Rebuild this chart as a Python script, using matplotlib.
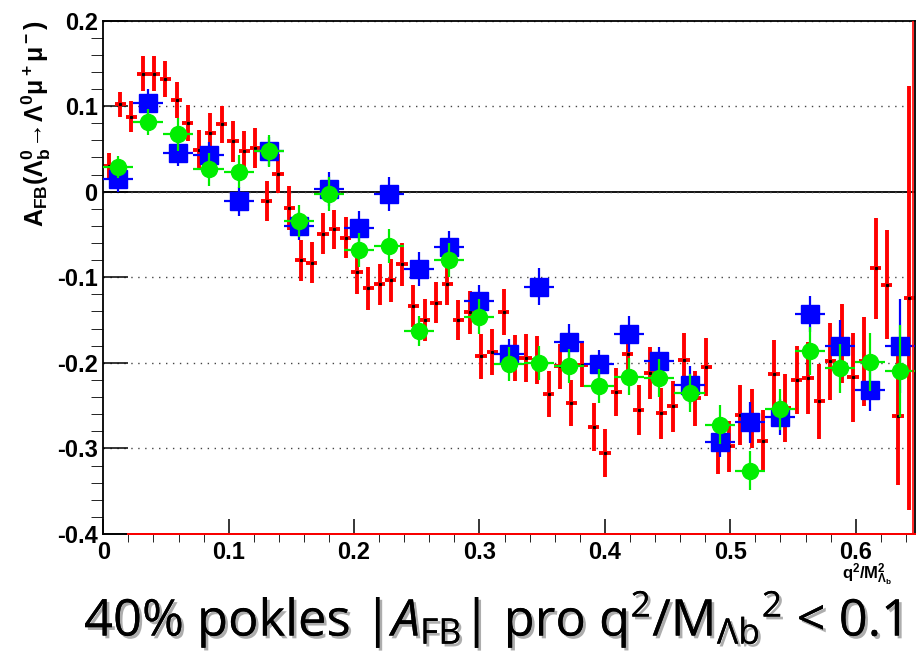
import matplotlib
matplotlib.use("Agg")
import matplotlib.pyplot as plt
import matplotlib.patheffects as pe
import numpy as np

plt.rcParams["mathtext.fontset"] = "custom"
plt.rcParams["mathtext.rm"] = "Open Sans"
plt.rcParams["mathtext.it"] = "Open Sans:italic"
plt.rcParams["mathtext.bf"] = "Liberation Sans:bold"
plt.rcParams["axes.unicode_minus"] = False

X_MAX = 0.6473

# fine binning (red)
red_values = [
    0.030, 0.102, 0.0875, 0.138, 0.138, 0.132, 0.107, 0.080, 0.049, 0.069,
    0.0785, 0.059, 0.048, 0.051, -0.011, 0.021, -0.019, -0.080, -0.083, -0.049,
    -0.044, -0.054, -0.094, -0.113, -0.108, -0.1035, -0.085, -0.1335, -0.150, -0.130,
    -0.108, -0.150, -0.141, -0.1925, -0.187, -0.141, -0.194, -0.194, -0.197, -0.236,
    -0.204, -0.247, -0.202, -0.2755, -0.305, -0.234, -0.190, -0.255, -0.212, -0.259,
    -0.251, -0.197, -0.2415, -0.205, -0.300, -0.2975, -0.261, -0.265, -0.291, -0.213,
    -0.253, -0.220, -0.218, -0.245, -0.198, -0.177, -0.217, -0.198, -0.0895, -0.1085,
    -0.2625, -0.124,
]
red_errors = [
    0.015, 0.015, 0.018, 0.020, 0.020, 0.021, 0.021, 0.021, 0.023, 0.023,
    0.022, 0.024, 0.023, 0.023, 0.023, 0.023, 0.026, 0.024, 0.024, 0.024,
    0.023, 0.024, 0.025, 0.025, 0.024, 0.025, 0.025, 0.025, 0.025, 0.024,
    0.025, 0.023, 0.025, 0.026, 0.027, 0.027, 0.027, 0.028, 0.028, 0.027,
    0.026, 0.027, 0.026, 0.028, 0.028, 0.028, 0.028, 0.029, 0.030, 0.030,
    0.030, 0.032, 0.032, 0.034, 0.030, 0.030, 0.035, 0.035, 0.036, 0.040,
    0.040, 0.040, 0.042, 0.044, 0.045, 0.046, 0.052, 0.052, 0.059, 0.064,
    0.080, 0.248,
]

# coarse binning (blue squares, green circles)
blue_values = [
    0.0144, 0.104, 0.0455, 0.0424, -0.011, 0.0474, -0.040, 0.0027, -0.0428,
    -0.003, -0.0907, -0.0645, -0.1277, -0.190, -0.1109, -0.1755, -0.2015,
    -0.1665, -0.1977, -0.226, -0.292, -0.2695, -0.2637, -0.1424, -0.180,
    -0.2315, -0.180,
]
blue_errors = [
    0.015, 0.016, 0.015, 0.016, 0.017, 0.017, 0.016, 0.020, 0.020,
    0.020, 0.020, 0.018, 0.019, 0.018, 0.022, 0.021, 0.016,
    0.021, 0.016, 0.022, 0.018, 0.024, 0.021, 0.021, 0.030,
    0.025, 0.055,
]
green_values = [
    0.0292, 0.0812, 0.0669, 0.026, 0.0233, 0.0474, -0.0343, -0.003, -0.068,
    -0.0635, -0.1627, -0.0795, -0.1459, -0.2015, -0.2003, -0.2035, -0.2268,
    -0.216, -0.218, -0.2353, -0.2723, -0.326, -0.254, -0.186, -0.2065,
    -0.1988, -0.2093,
]
green_errors = [
    0.013, 0.015, 0.019, 0.019, 0.019, 0.019, 0.019, 0.020, 0.020,
    0.020, 0.018, 0.020, 0.020, 0.020, 0.020, 0.020, 0.020,
    0.022, 0.022, 0.022, 0.023, 0.023, 0.024, 0.028, 0.029,
    0.034, 0.054,
]

y_ticks = [-0.4, -0.3, -0.2, -0.1, 0.0, 0.1, 0.2]
y_tick_labels = ["-0.4", "-0.3", "-0.2", "-0.1", "0", "0.1", "0.2"]
x_ticks = [0.0, 0.1, 0.2, 0.3, 0.4, 0.5, 0.6]
x_tick_labels = ["0", "0.1", "0.2", "0.3", "0.4", "0.5", "0.6"]


def bin_centers(n):
    edges = np.linspace(0, X_MAX, n + 1)
    return 0.5 * (edges[:-1] + edges[1:]), 0.5 * (edges[1] - edges[0])


fig = plt.figure(figsize=(9.21, 6.55), dpi=100)
ax = fig.add_axes([103.3 / 921, 1 - 534 / 655, (915 - 103.3) / 921, (534 - 20.5) / 655])

ax.yaxis.grid(True, linestyle=(0, (1, 4)), color="#444444", linewidth=1.0)
ax.axhline(0, color="black", linewidth=1.3, zorder=1.5)

xr, hwr = bin_centers(len(red_values))
ax.errorbar(xr, red_values, yerr=red_errors, xerr=hwr, fmt="none",
            ecolor="#ff0000", elinewidth=2.8, capsize=0, zorder=2)
ax.plot(xr, red_values, "s", color="black", markersize=1.3, zorder=2.1)

xb, hwb = bin_centers(len(blue_values))
ax.errorbar(xb, blue_values, yerr=blue_errors, xerr=hwb, fmt="s",
            color="#0000ff", ecolor="#0000ff", markersize=12.5,
            elinewidth=1.6, capsize=0, zorder=3)
ax.errorbar(xb, green_values, yerr=green_errors, xerr=hwb, fmt="o",
            color="#00ee00", ecolor="#00ee00", markersize=11.5,
            elinewidth=1.6, capsize=0, zorder=4)

# red frame of the fine histogram along the bottom and right edge
ax.plot([0.02, X_MAX], [-0.4, -0.4], color="#ff0000", linewidth=1.4, zorder=5, clip_on=False)
ax.plot([X_MAX - 0.0015, X_MAX - 0.0015], [-0.4, 0.2], color="#ff0000", linewidth=1.2, zorder=5)

ax.set_xlim(0, X_MAX)
ax.set_ylim(-0.4, 0.2)
ax.set_xticks(x_ticks)
ax.set_xticklabels(x_tick_labels)
ax.set_yticks(y_ticks)
ax.set_yticklabels(y_tick_labels)
ax.set_xticks(np.arange(0.02, X_MAX, 0.02), minor=True)
ax.set_yticks(np.arange(-0.38, 0.2, 0.02), minor=True)
ax.tick_params(axis="both", direction="in", width=1.1, labelsize=17)
ax.tick_params(axis="y", which="major", length=18, pad=4)
ax.tick_params(axis="y", which="minor", length=8.5)
ax.tick_params(axis="x", which="major", length=11, pad=5)
ax.tick_params(axis="x", which="minor", length=5.5)
for lab in ax.get_xticklabels() + ax.get_yticklabels():
    lab.set_fontweight("bold")
    lab.set_family("Liberation Sans")
for side in ["top", "bottom", "left", "right"]:
    ax.spines[side].set_linewidth(1.3)

fig.text(36 / 921, 1 - 20 / 655,
         r"$\mathbf{A_{FB}(\Lambda_b^0\!\rightarrow\!\Lambda^0\mu^+\mu^-)}$",
         rotation=90, ha="center", va="top", fontsize=18)
fig.text(842 / 921, 1 - 562 / 655, r"$\mathbf{q^2/M^2_{\Lambda_b}}$",
         ha="left", va="top", fontsize=12)

bottom = fig.text(84 / 921, 1 - 636 / 655,
                  r"40% pokles |$A_{\mathrm{FB}}$| pro $\mathrm{q^2/M_{\Lambda b}{}^2}$ < 0.1",
                  ha="left", va="baseline", fontsize=36.5, family="Open Sans")
bottom.set_path_effects([pe.withSimplePatchShadow(offset=(2, -2), shadow_rgbFace="#999999", alpha=0.8),
                         pe.Normal()])

fig.savefig("out.png", dpi=100)
